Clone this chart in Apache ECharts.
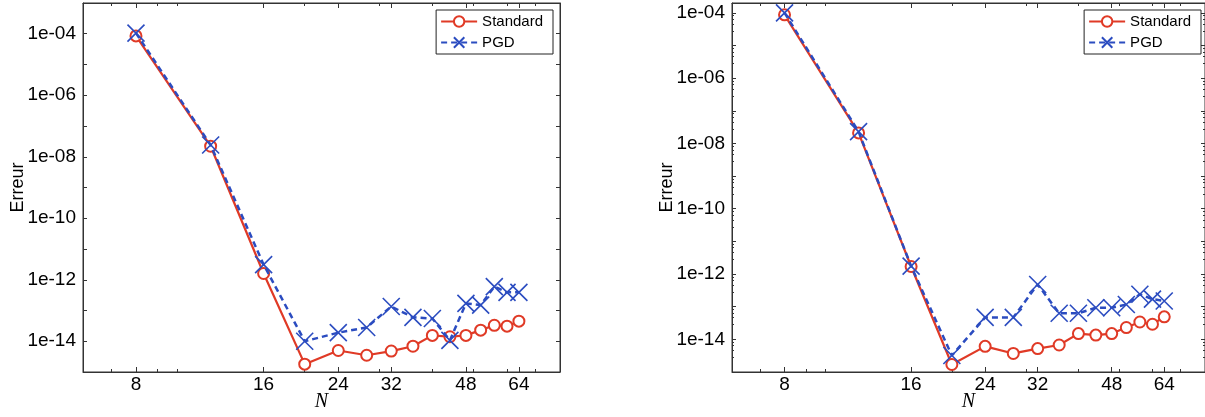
<!DOCTYPE html>
<html>
<head>
<meta charset="utf-8">
<script src="https://cdn.jsdelivr.net/npm/echarts@6/dist/echarts.min.js"></script>
<style>
  html, body { margin: 0; padding: 0; background: #fff; }
  #chart { width: 1205px; height: 417px; }
</style>
</head>
<body>
<div id="chart"></div>
<script>
// ---- data ----
const N = [8, 12, 16, 20, 24, 28, 32, 36, 40, 44, 48, 52, 56, 60, 64];
const xTickLabels = [8, 16, 24, 32, 48, 64];
const xMinorTicks = [6, 7, 9, 10, 20, 30, 40, 50, 60, 70];
const leftStandard = [8.5e-5, 2.2e-8, 1.6e-12, 1.8e-15, 5.0e-15, 3.5e-15, 4.8e-15, 6.9e-15, 1.55e-14, 1.4e-14, 1.55e-14, 2.3e-14, 3.3e-14, 3.1e-14, 4.5e-14];
const leftPGD      = [1.05e-4, 2.4e-8, 3.1e-12, 1.0e-14, 1.9e-14, 2.8e-14, 1.35e-13, 6.0e-14, 5.5e-14, 1.07e-14, 1.7e-13, 1.5e-13, 6.0e-13, 3.9e-13, 3.9e-13];
const rightStandard = [8.7e-5, 2.1e-8, 1.7e-12, 1.7e-15, 6.1e-15, 3.7e-15, 5.2e-15, 6.7e-15, 1.5e-14, 1.35e-14, 1.5e-14, 2.3e-14, 3.4e-14, 2.9e-14, 4.9e-14];
const rightPGD      = [1.0e-4, 2.3e-8, 1.75e-12, 3.2e-15, 4.7e-14, 4.7e-14, 4.8e-13, 6.3e-14, 6.3e-14, 9.3e-14, 9.3e-14, 1.17e-13, 2.4e-13, 1.7e-13, 1.5e-13];
const seriesNames = ['Standard', 'PGD'];
const xLabel = 'N';
const yLabel = 'Erreur';

// ---- style ----
const RED = '#e03a26';
const BLUE = '#2b4cc0';
const FRAME = '#333333';
const FONT = '"Liberation Sans", Arial, Helvetica, sans-serif';
const X_SYMBOL = 'path://M0,0L10,10M10,0L0,10';

function yFmt(v) {
  const e = Math.round(Math.log10(v));
  if (Math.abs(Math.log10(v) - e) > 1e-6 || e % 2 !== 0) return '';
  const a = Math.abs(e);
  return '1e' + (e < 0 ? '-' : '+') + (a < 10 ? '0' + a : '' + a);
}

const grids = [
  { left: 83, top: 3, width: 477, height: 370 },
  { left: 732, top: 3, width: 476, height: 370 }
];
const yMax = [1e-3, 2e-4];

const option = {
  animation: false,
  backgroundColor: '#fff',
  grid: grids.map(g => Object.assign({ show: true, borderColor: FRAME, borderWidth: 1, backgroundColor: 'transparent' }, g)),
  xAxis: [],
  yAxis: [],
  series: [],
  legend: []
};

[0, 1].forEach(gi => {
  const base = { type: 'log', logBase: 2, min: 6, max: 80, gridIndex: gi, splitLine: { show: false } };
  option.xAxis.push(Object.assign({}, base, {
    position: 'bottom',
    name: xLabel, nameLocation: 'middle', nameGap: 20, nameMoveOverlap: false,
    nameTextStyle: { fontFamily: '"Liberation Serif", "DejaVu Serif", serif', fontStyle: 'italic', fontSize: 20, color: '#000' },
    axisLine: { show: true, lineStyle: { color: FRAME, width: 1 } },
    axisTick: { show: true, inside: true, length: 5, lineStyle: { color: FRAME }, customValues: xTickLabels },
    axisLabel: { show: true, margin: 3, fontSize: 19, color: '#000', fontFamily: FONT, customValues: xTickLabels, formatter: v => String(Math.round(v)) }
  }));
  option.xAxis.push(Object.assign({}, base, {
    position: 'top',
    axisLine: { show: true, lineStyle: { color: FRAME, width: 1 } },
    axisTick: { show: true, inside: true, length: 5, lineStyle: { color: FRAME }, customValues: xTickLabels },
    axisLabel: { show: false }
  }));
  option.xAxis.push(Object.assign({}, base, {
    position: 'bottom',
    axisLine: { show: false },
    axisTick: { show: true, inside: true, length: 3, lineStyle: { color: FRAME }, customValues: xMinorTicks },
    axisLabel: { show: false }
  }));
  option.xAxis.push(Object.assign({}, base, {
    position: 'top',
    axisLine: { show: false },
    axisTick: { show: true, inside: true, length: 3, lineStyle: { color: FRAME }, customValues: xMinorTicks },
    axisLabel: { show: false }
  }));

  const ybase = { type: 'log', logBase: 10, min: 1e-15, max: yMax[gi], interval: 1, gridIndex: gi, splitLine: { show: false } };
  option.yAxis.push(Object.assign({}, ybase, {
    position: 'left',
    name: yLabel, nameLocation: 'middle', nameGap: 56, nameMoveOverlap: false,
    nameTextStyle: { fontFamily: FONT, fontSize: 18, color: '#000' },
    axisLine: { show: true, lineStyle: { color: FRAME, width: 1 } },
    axisTick: { show: true, inside: true, length: 4, lineStyle: { color: FRAME } },
    minorTick: { show: gi === 1, length: 2, splitNumber: 5, lineStyle: { color: FRAME } },
    axisLabel: { show: true, margin: 7, fontSize: 19, color: '#000', fontFamily: FONT, formatter: yFmt }
  }));
  option.yAxis.push(Object.assign({}, ybase, {
    position: 'right',
    axisLine: { show: true, lineStyle: { color: FRAME, width: 1 } },
    axisTick: { show: true, inside: true, length: 4, lineStyle: { color: FRAME } },
    minorTick: { show: gi === 1, length: 2, splitNumber: 5, lineStyle: { color: FRAME } },
    axisLabel: { show: false }
  }));

  const std = gi === 0 ? leftStandard : rightStandard;
  const pgd = gi === 0 ? leftPGD : rightPGD;
  const xi = gi * 4, yi = gi * 2;
  option.series.push({
    name: seriesNames[0], type: 'line', xAxisIndex: xi, yAxisIndex: yi,
    data: N.map((n, i) => [n, std[i]]),
    symbol: 'emptyCircle', symbolSize: 11,
    lineStyle: { color: RED, width: 2.2 },
    itemStyle: { color: RED, borderColor: RED, borderWidth: 1.4 },
    z: 2
  });
  option.series.push({
    name: seriesNames[1], type: 'line', xAxisIndex: xi, yAxisIndex: yi,
    data: N.map((n, i) => [n, pgd[i]]),
    symbol: X_SYMBOL, symbolSize: 17,
    lineStyle: { color: BLUE, width: 2.5, type: [6, 4] },
    itemStyle: { color: BLUE, borderColor: BLUE, borderWidth: 1.6 },
    z: 3
  });
  option.legend.push({
    data: seriesNames,
    orient: 'vertical',
    right: gi === 0 ? 652 : 4,
    top: 10,
    padding: [4, 10, 4, 4],
    itemGap: 6,
    itemWidth: 36,
    itemHeight: 13,
    borderColor: '#222', borderWidth: 1, backgroundColor: '#fff',
    textStyle: { fontFamily: FONT, fontSize: 15, color: '#000' },
    selectedMode: false
  });
});

const chart = echarts.init(document.getElementById('chart'), null, { renderer: 'canvas' });
chart.setOption(option);
</script>
</body>
</html>
